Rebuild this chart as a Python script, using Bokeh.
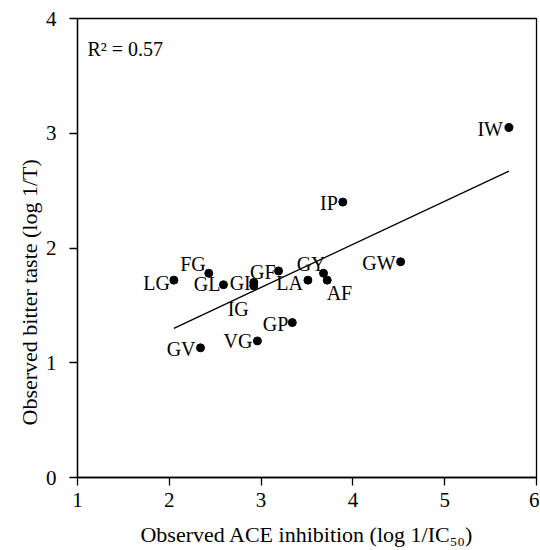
from bokeh.plotting import figure
from bokeh.models import Range1d, ColumnDataSource, FixedTicker, Label, Title
from bokeh.embed import file_html
from bokeh.resources import INLINE
from bokeh.core.properties import value

# Data
peptides = ["IW", "IP", "GW", "LG", "FG", "GL", "GI", "IG", "GF", "LA", "GY", "AF", "GP", "VG", "GV"]
ace_inhibition = [5.70, 3.89, 4.52, 2.05, 2.43, 2.59, 2.92, 2.92, 3.19, 3.51, 3.68, 3.72, 3.34, 2.96, 2.34]
bitter_taste = [3.05, 2.40, 1.88, 1.72, 1.78, 1.68, 1.70, 1.67, 1.80, 1.72, 1.78, 1.72, 1.35, 1.19, 1.13]
fit_x = [2.05, 5.70]
fit_y = [1.30, 2.67]
r_squared = 0.57
x_ticks = [1, 2, 3, 4, 5, 6]
y_ticks = [0, 1, 2, 3, 4]
x_title = "Observed ACE inhibition (log 1/IC\u2085\u2080)"
y_title = "Observed bitter taste (log 1/T)"

# label placement (pixels, relative to the point; right edge of the text)
label_dx = [-6, -5, -5, -4, -3, -3, -3, -5, -3, -5, 2, 25, -4, -5, -5]
label_dy = [1, 1, 1, 3, -9, -1, 1, 23, 1, 3, -9, 13, 1, 0, 1]

FONT = "Liberation Serif"

src = ColumnDataSource(dict(x=ace_inhibition, y=bitter_taste, name=peptides,
                            dx=label_dx, dy=label_dy))

p = figure(width=539, height=549, output_backend="svg", toolbar_location=None,
           x_range=Range1d(1, 6), y_range=Range1d(0, 4),
           min_border_left=77, min_border_right=3, min_border_top=18, min_border_bottom=72)
p.background_fill_color = "white"
p.border_fill_color = "white"
p.outline_line_color = "black"
p.outline_line_width = 1.3
p.xgrid.visible = False
p.ygrid.visible = False

for ax in (p.xaxis, p.yaxis):
    ax.axis_line_color = "black"
    ax.axis_line_width = 1.3
    ax.major_tick_line_color = "black"
    ax.major_tick_line_width = 1.3
    ax.major_tick_out = 8
    ax.major_tick_in = 0
    ax.minor_tick_line_color = None
    ax.major_label_text_font = FONT
    ax.major_label_text_font_size = "21px"
    ax.major_label_text_color = "black"
    ax.axis_label_text_font = FONT
    ax.axis_label_text_font_size = "22px"
    ax.axis_label_text_font_style = "normal"
    ax.axis_label_text_color = "black"

p.xaxis.ticker = FixedTicker(ticks=x_ticks)
p.yaxis.ticker = FixedTicker(ticks=y_ticks)
p.xaxis.major_label_standoff = 7
p.yaxis.major_label_standoff = 13
p.xaxis.axis_label = x_title
p.xaxis.axis_label_standoff = 12

p.line(fit_x, fit_y, line_color="black", line_width=1.3)
p.scatter("x", "y", source=src, size=8, color="black")
p.text("x", "y", text="name", source=src, x_offset="dx", y_offset="dy",
       text_align="right", text_baseline="middle",
       text_font=value(FONT), text_font_size="20px", text_color="black")

p.add_layout(Label(x=10, y=429, x_units="screen", y_units="screen",
                   text="R\u00b2 = %.2f" % r_squared, text_font=FONT,
                   text_font_size="20px", text_color="black",
                   text_baseline="middle"))

# y-axis title (starts a little above the frame bottom, as in the reference)
p.add_layout(Title(text=y_title, align="left", offset=52, standoff=2,
                   text_font=FONT, text_font_size="22px",
                   text_font_style="normal", text_color="black"), "left")

open("out.html", "w").write(file_html(p, INLINE))
